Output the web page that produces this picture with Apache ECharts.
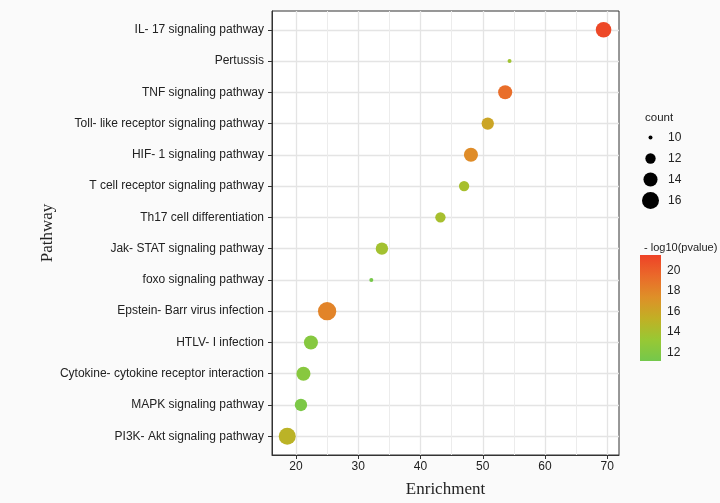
<!DOCTYPE html>
<html>
<head>
<meta charset="utf-8">
<script src="https://cdn.jsdelivr.net/npm/echarts@6/dist/echarts.min.js"></script>
<style>html,body{margin:0;padding:0;background:#fafafa;}#c{width:720px;height:503px;}</style>
</head>
<body>
<div id="c"></div>
<script>
const pathways = ["IL- 17 signaling pathway","Pertussis","TNF signaling pathway","Toll- like receptor signaling pathway","HIF- 1 signaling pathway","T cell receptor signaling pathway","Th17 cell differentiation","Jak- STAT signaling pathway","foxo signaling pathway","Epstein- Barr virus infection","HTLV- I infection","Cytokine- cytokine receptor interaction","MAPK signaling pathway","PI3K- Akt signaling pathway"];
const enrichment = [69.4, 54.3, 53.6, 50.8, 48.1, 47.0, 43.2, 33.8, 32.1, 25.0, 22.4, 21.2, 20.8, 18.6];
const counts = [15, 10, 14, 13, 14, 12, 12, 13, 10, 17, 14, 14, 13, 16];
const logp = [21.2, 13.6, 19.2, 16.0, 17.6, 14.0, 14.0, 13.8, 11.3, 18.0, 12.2, 12.3, 11.6, 15.0];
const xTicks = [20, 30, 40, 50, 60, 70];
const xMinor = [25, 35, 45, 55, 65];
const countBreaks = [10, 12, 14, 16];
const pBreaks = [12, 14, 16, 18, 20];
const pMin = 11.15, pMax = 21.5;
const palette = ['#74c84c', '#98c834', '#c1b025', '#de9028', '#ea6a2a', '#ee4227'];

function sizeOf(c) { return Math.sqrt(16 + 45.5 * (c - 10)); }

const yIdx = pathways.map((_, i) => i);
const mainData = pathways.map((p, i) => [enrichment[i], i, counts[i], logp[i], p]);

const chart = echarts.init(document.getElementById('c'), null, {renderer: 'canvas'});
const sans = 'Liberation Sans, Arial, sans-serif';
const serif = 'Liberation Serif, Times New Roman, serif';

const option = {
  backgroundColor: '#fafafa',
  animation: false,
  textStyle: {fontFamily: sans},
  grid: [
    {left: 272, top: 11, right: 101, bottom: 44, show: true, backgroundColor: '#ffffff', borderColor: '#333', borderWidth: 1},
    {left: 640, top: 255, width: 21, height: 106},
    {left: 640, top: 127, width: 21, height: 84}
  ],
  xAxis: [
    {type: 'value', gridIndex: 0, min: 16.15, max: 71.88,
     name: 'Enrichment', nameLocation: 'middle', nameGap: 26,
     nameTextStyle: {fontFamily: serif, fontSize: 17, color: '#222'},
     axisLine: {show: true, onZero: false, lineStyle: {color: '#333'}},
     axisTick: {show: true, length: 4, lineStyle: {color: '#333'}, customValues: xTicks},
     axisLabel: {customValues: xTicks, color: '#222', fontSize: 12, margin: 6},
     splitLine: {show: true, lineStyle: {color: '#e4e4e4', width: 1.3}}},
    {type: 'value', gridIndex: 0, min: 16.15, max: 71.88, position: 'top',
     axisLine: {show: false, onZero: false}, axisLabel: {show: false},
     axisTick: {show: false, customValues: xMinor},
     splitLine: {show: true, lineStyle: {color: '#ececec', width: 1}}},
    {type: 'category', gridIndex: 1, data: ['bar'], show: false},
    {type: 'value', gridIndex: 2, min: 0, max: 1, show: false}
  ],
  yAxis: [
    {type: 'value', gridIndex: 0, min: -0.6, max: 13.6, inverse: true,
     name: 'Pathway', nameLocation: 'middle', nameGap: 216, nameRotate: 90,
     nameTextStyle: {fontFamily: serif, fontSize: 17, color: '#222'},
     axisLine: {show: true, onZero: false, lineStyle: {color: '#333'}},
     axisTick: {show: true, length: 4, lineStyle: {color: '#333'}, customValues: yIdx},
     axisLabel: {customValues: yIdx, color: '#222', fontSize: 12, margin: 8,
                 formatter: v => pathways[Math.round(v)]},
     splitLine: {show: true, lineStyle: {color: '#e4e4e4', width: 1.3}}},
    {type: 'value', gridIndex: 1, min: pMin, max: pMax, position: 'right',
     axisLine: {show: false, onZero: false},
     axisTick: {show: true, inside: true, length: 4, lineStyle: {color: '#ffffff', width: 1}, customValues: pBreaks},
     axisLabel: {customValues: pBreaks, color: '#222', fontSize: 12, margin: 6},
     splitLine: {show: false}},
    {type: 'value', gridIndex: 1, min: pMin, max: pMax, position: 'left',
     axisLine: {show: false, onZero: false},
     axisTick: {show: true, inside: true, length: 4, lineStyle: {color: '#ffffff', width: 1}, customValues: pBreaks},
     axisLabel: {show: false}, splitLine: {show: false}},
    {type: 'category', gridIndex: 2, data: countBreaks.map(String), inverse: true, position: 'right',
     axisLine: {show: false, onZero: false}, axisTick: {show: false},
     axisLabel: {color: '#222', fontSize: 12, margin: 7}}
  ],
  visualMap: [{
    type: 'continuous', show: false, seriesIndex: 0, dimension: 3,
    min: pMin, max: pMax, inRange: {color: palette}
  }],
  title: [
    {text: 'count', left: 640, top: 107, textStyle: {fontSize: 11.5, fontWeight: 'normal', color: '#222', fontFamily: sans}},
    {text: '- log10(pvalue)', left: 639, top: 237, textStyle: {fontSize: 11, fontWeight: 'normal', color: '#222', fontFamily: sans}}
  ],
  series: [
    {type: 'scatter', xAxisIndex: 0, yAxisIndex: 0, data: mainData,
     symbolSize: d => sizeOf(d[2]), itemStyle: {opacity: 1}, z: 5},
    {type: 'bar', xAxisIndex: 2, yAxisIndex: 1, stack: 'cb', data: [pMin], barWidth: '100%',
     itemStyle: {color: 'rgba(0,0,0,0)'}, silent: true},
    {type: 'bar', xAxisIndex: 2, yAxisIndex: 1, stack: 'cb', data: [pMax - pMin], barWidth: '100%', z: 1,
     itemStyle: {color: new echarts.graphic.LinearGradient(0, 1, 0, 0,
        palette.map((c, i) => ({offset: i / (palette.length - 1), color: c})))}},
    {type: 'scatter', xAxisIndex: 3, yAxisIndex: 3,
     data: countBreaks.map((c, i) => [0.5, i, c]),
     symbolSize: d => sizeOf(d[2]), itemStyle: {color: '#000', opacity: 1}}
  ]
};
chart.setOption(option);
</script>
</body>
</html>
